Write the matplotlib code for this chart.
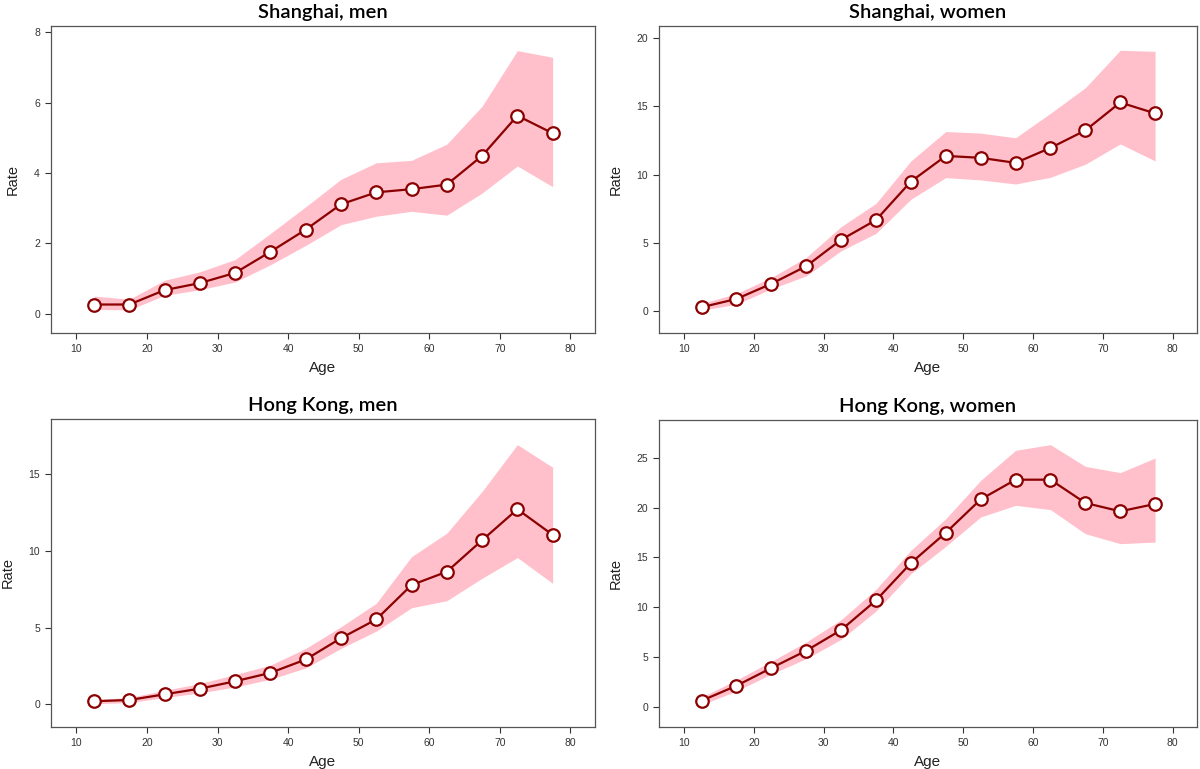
import numpy as np
import matplotlib
matplotlib.use("Agg")
from matplotlib import pyplot as plt

plt.rcParams['font.family'] = ['Liberation Sans', 'DejaVu Sans']

age = [12.5, 17.5, 22.5, 27.5, 32.5, 37.5, 42.5, 47.5, 52.5, 57.5, 62.5, 67.5, 72.5, 77.5]

# Shanghai, men
sh_men = [0.26, 0.26, 0.67, 0.87, 1.16, 1.76, 2.39, 3.11, 3.45, 3.54, 3.67, 4.49, 5.63, 5.13]
sh_men_hi = [0.50, 0.41, 0.95, 1.19, 1.54, 2.28, 3.04, 3.82, 4.29, 4.36, 4.82, 5.90, 7.48, 7.29]
sh_men_lo = [0.12, 0.11, 0.52, 0.68, 0.90, 1.39, 1.94, 2.53, 2.77, 2.91, 2.80, 3.43, 4.20, 3.61]

# Shanghai, women
sh_wom = [0.27, 0.88, 1.99, 3.28, 5.22, 6.67, 9.49, 11.37, 11.23, 10.86, 11.96, 13.24, 15.29, 14.49]
sh_wom_hi = [0.54, 1.27, 2.45, 3.92, 6.18, 7.89, 11.0, 13.16, 13.04, 12.70, 14.5, 16.37, 19.12, 19.04]
sh_wom_lo = [0.05, 0.49, 1.62, 2.57, 4.41, 5.69, 8.19, 9.78, 9.61, 9.31, 9.80, 10.76, 12.25, 11.0]

# Hong Kong, men
hk_men = [0.20, 0.28, 0.65, 1.02, 1.50, 2.05, 2.92, 4.31, 5.53, 7.77, 8.64, 10.69, 12.71, 11.04]
hk_men_hi = [0.30, 0.44, 0.91, 1.35, 1.94, 2.55, 3.64, 5.05, 6.58, 9.62, 11.15, 13.87, 16.92, 15.44]
hk_men_lo = [0.04, 0.11, 0.44, 0.74, 1.13, 1.63, 2.37, 3.64, 4.77, 6.29, 6.75, 8.21, 9.56, 7.88]

# Hong Kong, women
hk_wom = [0.60, 2.11, 3.89, 5.63, 7.71, 10.69, 14.44, 17.49, 20.84, 22.82, 22.82, 20.48, 19.64, 20.38]
hk_wom_hi = [0.97, 2.68, 4.56, 6.50, 8.75, 11.80, 15.72, 18.90, 22.75, 25.77, 26.34, 24.16, 23.53, 25.0]
hk_wom_lo = [0.20, 1.58, 3.28, 4.83, 6.77, 9.62, 13.37, 16.12, 19.07, 20.24, 19.81, 17.39, 16.39, 16.55]

panels = [
    ("Shanghai, men", sh_men, sh_men_lo, sh_men_hi, [0, 2, 4, 6, 8], (-0.55, 8.18)),
    ("Shanghai, women", sh_wom, sh_wom_lo, sh_wom_hi, [0, 5, 10, 15, 20], (-1.62, 20.9)),
    ("Hong Kong, men", hk_men, hk_men_lo, hk_men_hi, [0, 5, 10, 15], (-1.48, 18.59)),
    ("Hong Kong, women", hk_wom, hk_wom_lo, hk_wom_hi, [0, 5, 10, 15, 20, 25], (-2.04, 28.82)),
]

# axes boxes in pixels: left, top, right, bottom
boxes = [
    (51, 26, 595, 333),
    (659, 26, 1197, 333),
    (51, 419, 595, 727),
    (659, 420, 1197, 727),
]

W, H = 1200, 769
fig = plt.figure(figsize=(12, 7.69), dpi=100)

for (title, y, lo, hi, yt, ylim), (l, t, r, b) in zip(panels, boxes):
    ax = fig.add_axes([l / W, 1 - b / H, (r - l) / W, (b - t) / H])
    ax.fill_between(age, lo, hi, color="#FFC0CB", linewidth=0)
    ax.plot(age, y, color="#8B0000", linewidth=1.6, marker="o", markersize=9,
            markerfacecolor="white", markeredgecolor="#8B0000", markeredgewidth=1.6)
    ax.set_xlim(6.4, 83.5)
    ax.set_ylim(*ylim)
    ax.set_xticks([10, 20, 30, 40, 50, 60, 70, 80])
    ax.set_yticks(yt)
    ax.tick_params(labelsize=7.5, colors="#333333", length=4, width=0.8, pad=4)
    for s in ax.spines.values():
        s.set_color("#555555")
        s.set_linewidth(0.9)
    ax.set_xlabel("Age", fontsize=11, color="#222222", labelpad=5)
    ax.set_ylabel("Rate", fontsize=10.5, color="#222222", labelpad=10)
    ax.set_title(title, fontsize=14.5, family=["Lato", "DejaVu Sans"], fontweight="semibold", pad=6)

fig.savefig("out.png", dpi=100)
